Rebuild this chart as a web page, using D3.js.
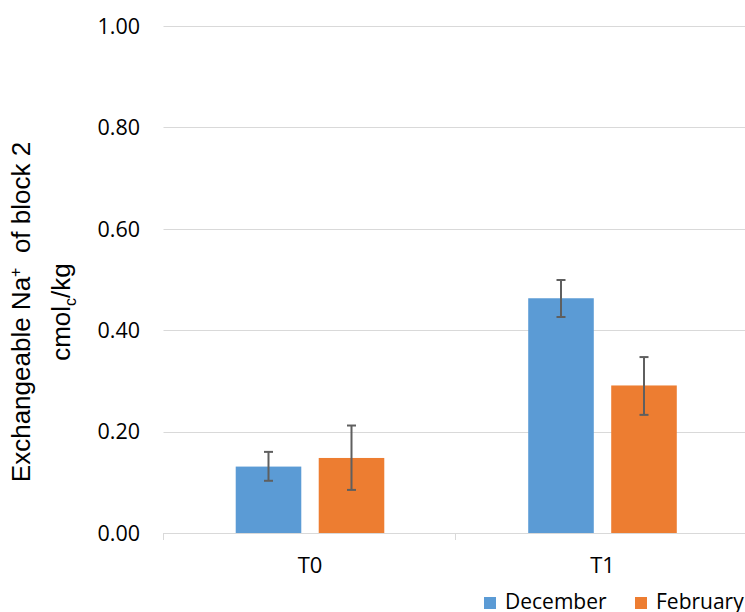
<!DOCTYPE html>
<html><head><meta charset="utf-8">
<script src="https://cdn.jsdelivr.net/npm/d3@7"></script>
<style>body{margin:0;background:#fff}svg{display:block}</style>
</head><body>
<script>
const categories = ["T0", "T1"];
const seriesNames = ["December", "February"];
const december = [0.131, 0.463];
const february = [0.148, 0.291];
const decErrLow = [0.103, 0.426];
const decErrHigh = [0.160, 0.499];
const febErrLow = [0.085, 0.233];
const febErrHigh = [0.212, 0.347];
const yTicks = [0, 0.2, 0.4, 0.6, 0.8, 1.0];
const colors = ["#5B9BD5", "#ED7D31"];

const W = 745, H = 612;
const svg = d3.select("body").append("svg").attr("width", W).attr("height", H);

const y = d3.scaleLinear().domain([0, 1]).range([533, 26]);
const x0 = d3.scaleBand().domain(categories).range([163.75, 748.75]).padding(0);
const x1 = d3.scaleBand().domain(seriesNames).range([0, x0.bandwidth()]).paddingInner(0.21).paddingOuter(0.867);

// gridlines
svg.append("g").selectAll("line").data(yTicks.filter(d => d > 0)).join("line")
  .attr("x1", 163.5).attr("x2", W).attr("y1", d => Math.round(y(d)) + 0.5).attr("y2", d => Math.round(y(d)) + 0.5)
  .attr("stroke", "#d9d9d9").attr("stroke-width", 1);

// y tick labels
svg.append("g").selectAll("text").data(yTicks).join("text")
  .attr("x", 140).attr("y", d => y(d)).attr("dy", "0.36em")
  .attr("text-anchor", "end").attr("font-family", "'Open Sans', sans-serif").attr("font-size", 21.5)
  .attr("fill", "#000").text(d => d.toFixed(2));

// bars
const data = categories.map((c, i) => ({
  cat: c,
  vals: [
    {s: seriesNames[0], v: december[i], lo: decErrLow[i], hi: decErrHigh[i], c: colors[0]},
    {s: seriesNames[1], v: february[i], lo: febErrLow[i], hi: febErrHigh[i], c: colors[1]}
  ]
}));
const g = svg.append("g").selectAll("g").data(data).join("g")
  .attr("transform", d => `translate(${x0(d.cat)},0)`);
g.selectAll("rect").data(d => d.vals).join("rect")
  .attr("x", d => x1(d.s)).attr("width", x1.bandwidth())
  .attr("y", d => y(d.v)).attr("height", d => y(0) - y(d.v))
  .attr("fill", d => d.c);

// x axis line and ticks
const ax = svg.append("g");
ax.append("line").attr("x1", 163.5).attr("x2", W).attr("y1", 533.5).attr("y2", 533.5)
  .attr("stroke", "#d9d9d9").attr("stroke-width", 1);
ax.selectAll("line.tk").data([163.75, 163.75 + x0.bandwidth(), 163.75 + 2 * x0.bandwidth()]).join("line")
  .attr("class", "tk").attr("x1", d => Math.round(d) - 0.5).attr("x2", d => Math.round(d) - 0.5)
  .attr("y1", 533).attr("y2", 540).attr("stroke", "#d9d9d9");
ax.selectAll("text").data(categories).join("text")
  .attr("x", d => x0(d) + x0.bandwidth() / 2).attr("y", 573)
  .attr("text-anchor", "middle").attr("font-family", "'Open Sans', sans-serif").attr("font-size", 22)
  .attr("fill", "#000").text(d => d);

// error bars
const eb = g.selectAll("g.err").data(d => d.vals).join("g").attr("class", "err")
  .attr("transform", d => `translate(${x1(d.s) + x1.bandwidth() / 2},0)`);
eb.append("line").attr("x1", 0).attr("x2", 0).attr("y1", d => y(d.hi)).attr("y2", d => y(d.lo))
  .attr("stroke", "#5f5f5f").attr("stroke-width", 2);
eb.append("line").attr("x1", -4.5).attr("x2", 4.5).attr("y1", d => y(d.hi)).attr("y2", d => y(d.hi))
  .attr("stroke", "#5f5f5f").attr("stroke-width", 2);
eb.append("line").attr("x1", -4.5).attr("x2", 4.5).attr("y1", d => y(d.lo)).attr("y2", d => y(d.lo))
  .attr("stroke", "#5f5f5f").attr("stroke-width", 2);

// y axis title
const t = svg.append("g").attr("transform", "translate(0,312) rotate(-90)")
  .attr("font-family", "'Liberation Sans', Arial, sans-serif").attr("fill", "#000");
const t1 = t.append("text").attr("x", 0).attr("y", 30).attr("text-anchor", "middle").attr("font-size", 26);
t1.append("tspan").text("Exchangeable Na");
t1.append("tspan").attr("dy", -9).attr("font-size", 16).text("+");
t1.append("tspan").attr("dy", 9).text("\u00a0\u00a0of block 2");
const t2 = t.append("text").attr("x", 0).attr("y", 70).attr("text-anchor", "middle").attr("font-size", 26);
t2.append("tspan").text("cmol");
t2.append("tspan").attr("dy", 6).attr("font-size", 16).text("c");
t2.append("tspan").attr("dy", -6).text("/kg");

// legend
const leg = svg.append("g").attr("font-family", "'Open Sans', sans-serif").attr("font-size", 21);
const legX = [484, 635];
seriesNames.forEach((s, i) => {
  leg.append("rect").attr("x", legX[i]).attr("y", 597).attr("width", 12).attr("height", 12).attr("fill", colors[i]);
  leg.append("text").attr("x", legX[i] + 21).attr("y", 609).attr("fill", "#000").text(s);
});
</script>
</body></html>
